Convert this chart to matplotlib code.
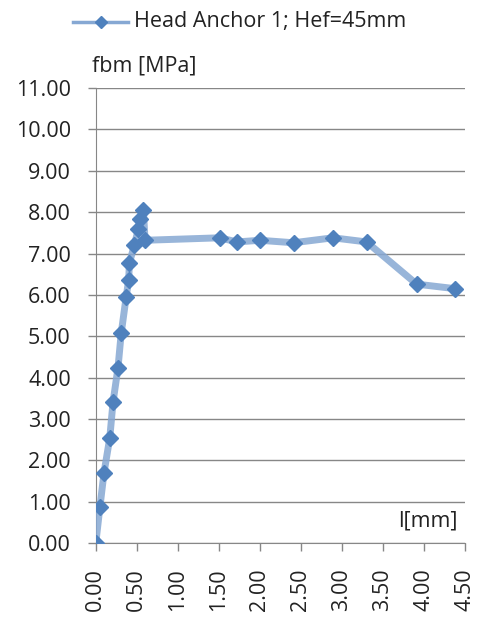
import matplotlib
matplotlib.use("Agg")
import matplotlib.pyplot as plt
import numpy as np

# Slip l [mm] vs bond stress fbm [MPa]
slip = [0.00, 0.05, 0.10, 0.17, 0.21, 0.27, 0.31, 0.37, 0.40, 0.41, 0.47, 0.52,
        0.54, 0.58, 0.60, 1.51, 1.72, 2.00, 2.41, 2.89, 3.30, 3.91, 4.38]
stress = [0.00, 0.87, 1.70, 2.54, 3.41, 4.23, 5.08, 5.95, 6.35, 6.77, 7.21, 7.60,
          7.84, 8.05, 7.32, 7.38, 7.28, 7.32, 7.26, 7.38, 7.28, 6.26, 6.15]
series_name = "Head Anchor 1; Hef=45mm"

plt.rcParams['font.family'] = ['Open Sans', 'DejaVu Sans']
fs = 15.5
txt = '#222222'

fig = plt.figure(figsize=(4.79, 6.2), dpi=100)
ax = fig.add_axes([0.2, 0.124, 0.771, 0.734])

blue = '#4F81BD'
ax.plot(slip, stress, color='#86A8D3', linewidth=5, alpha=0.85, solid_joinstyle='round',
        zorder=3)
ax.plot(slip, stress, linestyle='none', marker='D', markersize=8, color=blue, zorder=4)

ax.set_xlim(0, 4.5)
ax.set_ylim(0, 11)
ax.set_xticks(np.arange(0, 4.51, 0.5))
ax.set_yticks(np.arange(0, 11.01, 1))
ax.set_xticklabels([f"{v:.2f}" for v in np.arange(0, 4.51, 0.5)], rotation=90)
ax.set_yticklabels([f"{v:.2f}" for v in np.arange(0, 11.01, 1)])
ax.tick_params(axis='both', labelsize=fs, color='#878787', length=6, width=1,
               labelcolor=txt)
ax.tick_params(axis='x', pad=12)
ax.tick_params(axis='y', pad=12)

ax.grid(True, axis='y', color='#878787', linewidth=1)
for s in ['top', 'right']:
    ax.spines[s].set_visible(False)
for s in ['left', 'bottom']:
    ax.spines[s].set_color('#878787')
ax.set_axisbelow(True)

ax.text(-0.01, 1.025, "fbm [MPa]", transform=ax.transAxes, fontsize=fs,
        ha='left', va='bottom', color=txt)
ax.text(0.98, 0.025, "l[mm]", transform=ax.transAxes, fontsize=fs,
        ha='right', va='bottom', color=txt)

# legend entry at the top
fig.lines.append(plt.Line2D([0.152, 0.268], [0.965, 0.965], transform=fig.transFigure,
                            color='#86A8D3', linewidth=2.5))
fig.lines.append(plt.Line2D([0.21], [0.965], transform=fig.transFigure, marker='D',
                            markersize=6, color=blue, linestyle='none'))
fig.text(0.28, 0.965, series_name, fontsize=fs, ha='left', va='center', color=txt)

fig.savefig('out.png', dpi=100)
